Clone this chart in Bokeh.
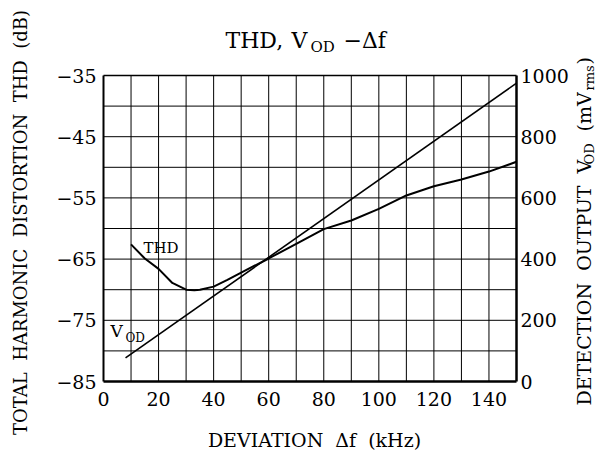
import math
from bokeh.plotting import figure
from bokeh.models import Range1d, LinearAxis, FixedTicker, Label
from bokeh.embed import file_html
from bokeh.resources import INLINE

# ---- data ----
deviation_khz = [10, 15, 20, 25, 30, 33, 35, 40, 45, 50, 60, 70, 80, 90, 100, 110, 120, 130, 140, 150]
thd_db = [-62.6, -64.9, -66.6, -68.9, -70.0, -70.1, -70.0, -69.5, -68.4, -67.2, -64.9, -62.5,
          -60.1, -58.7, -56.8, -54.6, -53.1, -52.0, -50.7, -49.1]
vod_khz = [8, 150]
vod_mv = [77, 975]

x_ticks = [0, 20, 40, 60, 80, 100, 120, 140]
thd_ticks = [-85, -75, -65, -55, -45, -35]
vod_ticks = [0, 200, 400, 600, 800, 1000]
x_grid = list(range(10, 150, 10))
y_grid = list(range(-80, -35, 5))

X0, X1 = 0, 150
Y0, Y1 = -85, -35
V0, V1 = 0, 1000

FONT = "DejaVu Serif"
W, H = 597, 451
FL, FR, FT, FB = 103, 516, 75, 381   # plot-area edges in canvas pixels
SP = "\u00a0 "                          # wide word gap (not collapsed in SVG)

# the frame spans the whole canvas; ranges are widened so the plot area lands on FL..FR, FT..FB
sx = (FR - FL) / (X1 - X0)
sy = (FB - FT) / (Y1 - Y0)
sv = (FB - FT) / (V1 - V0)
x_range = Range1d(X0 - FL / sx, X1 + (W - FR) / sx)
y_range = Range1d(Y0 - (H - FB) / sy, Y1 + FT / sy)
v_range = Range1d(V0 - (H - FB) / sv, V1 + FT / sv)

p = figure(width=W, height=H, x_range=x_range, y_range=y_range,
           output_backend="svg", toolbar_location=None, min_border=0)
p.title.visible = False
p.background_fill_color = "white"
p.border_fill_color = "white"
p.outline_line_color = None
p.xgrid.visible = False
p.ygrid.visible = False

p.extra_y_ranges = {"vod": v_range}

p.xaxis.ticker = FixedTicker(ticks=x_ticks)
p.xaxis.fixed_location = Y0
p.xaxis.bounds = (X0, X1)
p.yaxis.ticker = FixedTicker(ticks=thd_ticks)
p.yaxis.fixed_location = X0
p.yaxis.bounds = (Y0, Y1)
p.yaxis.major_label_overrides = {t: "\u2212" + str(abs(t)) for t in thd_ticks}
right = LinearAxis(y_range_name="vod", ticker=FixedTicker(ticks=vod_ticks),
                   fixed_location=X1, bounds=(V0, V1))
p.add_layout(right, "right")

for ax in [p.xaxis[0], p.yaxis[0], right]:
    ax.major_tick_out = 0
    ax.major_tick_in = 0
    ax.minor_tick_out = 0
    ax.minor_tick_in = 0
    ax.axis_line_color = "black"
    ax.axis_line_width = 2.5
    ax.major_label_text_font = FONT
    ax.major_label_text_font_size = "19px"
    ax.major_label_text_color = "black"
p.yaxis[0].axis_line_width = 2
p.xaxis.major_label_standoff = 10
p.yaxis[0].major_label_standoff = 7
right.major_label_standoff = 4

# grid and top edge
p.segment(x0=x_grid, y0=[Y0] * len(x_grid), x1=x_grid, y1=[Y1] * len(x_grid),
          line_color="black", line_width=1)
p.segment(x0=[X0] * len(y_grid), y0=y_grid, x1=[X1] * len(y_grid), y1=y_grid,
          line_color="black", line_width=1)
p.segment(x0=[X0], y0=[Y1], x1=[X1], y1=[Y1], line_color="black", line_width=1.5)

# curves
p.line(deviation_khz, thd_db, line_color="black", line_width=2)
p.line(vod_khz, vod_mv, y_range_name="vod", line_color="black", line_width=1.6)


def lab(text, px, py, size, angle=0.0, align="left"):
    """Place a text whose glyph centre line passes through canvas pixel (px, py)."""
    x = x_range.start + px / sx
    y = y_range.end - py / sy
    p.add_layout(Label(x=x, y=y, text=text, text_font=FONT, text_font_size=f"{size}px",
                       angle=angle, text_align=align, text_baseline="alphabetic",
                       text_color="black"))


# title
lab("THD,", 225, 39.5, 22)
lab("V", 291, 39.5, 22)
lab("OD", 310, 46, 15)
lab("\u2212\u0394f", 343, 39.5, 22)

# x axis label
lab("DEVIATION" + SP + "\u0394f" + SP + "(kHz)", 314, 439, 19, align="center")

# left axis label
lab("TOTAL" + SP + "HARMONIC" + SP + "DISTORTION" + SP + "THD" + SP + "(dB)",
    20, 222, 18, angle=math.pi / 2, align="center")

# right axis label (rotated, pieces from bottom to top)
a = math.pi / 2
lab("DETECTION" + SP + "OUTPUT" + SP + "V", 583, 405, 19, angle=a)
lab("OD", 589, 164, 13, angle=a)
lab("(mV", 583, 131, 19, angle=a)
lab("rms", 589, 90, 13, angle=a)
lab(")", 583, 64, 19, angle=a)

# in-plot curve labels
lab("THD", 143, 247.5, 15)
lab("V", 110, 330, 17)
lab("OD", 125, 337, 12)

open("out.html", "w").write(file_html(p, INLINE))
